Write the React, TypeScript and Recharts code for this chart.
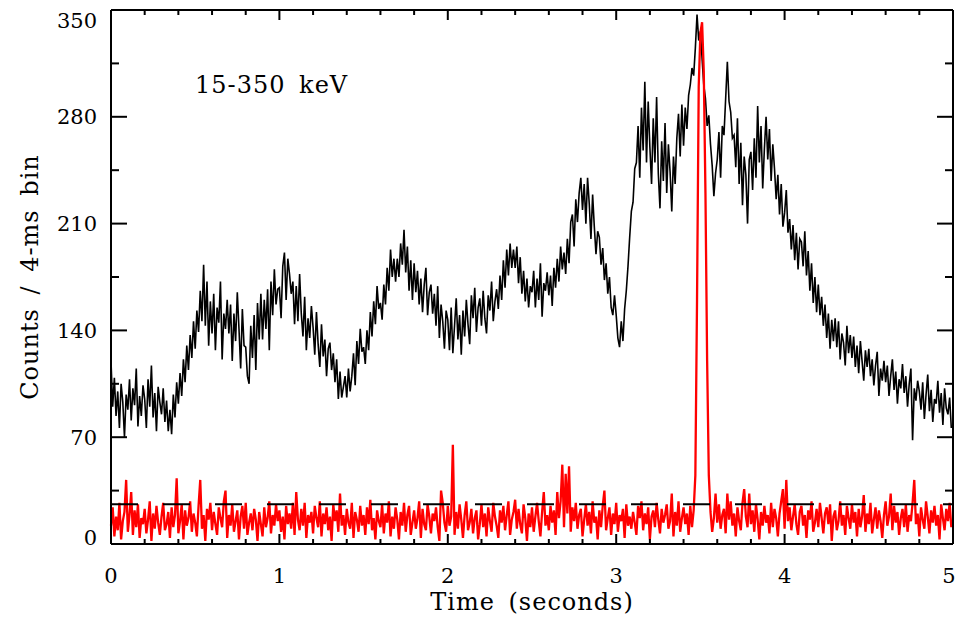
import { LineChart, Line, XAxis, YAxis, ReferenceLine } from 'recharts'

const binWidth = 0.01
const xTicks = [0, 0.2, 0.4, 0.6, 0.8, 1, 1.2, 1.4, 1.6, 1.8, 2, 2.2, 2.4, 2.6, 2.8, 3, 3.2, 3.4, 3.6, 3.8, 4, 4.2, 4.4, 4.6, 4.8, 5]
const xMajor = [0, 1, 2, 3, 4, 5]
const yTicks = [0, 35, 70, 105, 140, 175, 210, 245, 280, 315, 350]
const yMajor = [0, 70, 140, 210, 280, 350]
const backgroundLevel = 26

// 15-350 keV light curve, one value per 10 ms
const totalCounts = [
  120, 90, 109, 84, 100, 76, 105, 93, 70, 98,
  88, 108, 81, 102, 91, 115, 77, 97, 84, 104,
  95, 76, 108, 90, 117, 83, 99, 74, 103, 93,
  85, 102, 80, 94, 74, 88, 72, 98, 83, 106,
  92, 112, 97, 121, 106, 130, 114, 137, 122, 146,
  128, 153, 139, 166, 146, 183, 143, 172, 130, 159,
  138, 164, 127, 155, 145, 172, 121, 151, 141, 160,
  138, 157, 120, 151, 133, 165, 141, 115, 154, 130,
  129, 110, 105, 143, 122, 150, 114, 158, 134, 164,
  134, 160, 141, 167, 127, 172, 150, 180, 157, 167,
  168, 148, 182, 191, 160, 187, 177, 164, 172, 144,
  169, 146, 177, 151, 136, 162, 127, 148, 135, 156,
  142, 124, 152, 131, 116, 144, 123, 134, 110, 128,
  132, 114, 125, 106, 121, 95, 113, 96, 103, 110,
  96, 115, 100, 110, 125, 104, 133, 118, 141, 126,
  129, 118, 140, 127, 152, 136, 159, 144, 169, 154,
  158, 147, 170, 157, 181, 166, 193, 175, 187, 172,
  187, 175, 197, 183, 206, 178, 195, 166, 186, 160,
  184, 165, 179, 157, 174, 152, 170, 181, 150, 165,
  170, 151, 164, 143, 169, 135, 157, 146, 128, 153,
  147, 127, 155, 125, 143, 161, 134, 150, 124, 153,
  136, 160, 144, 131, 163, 148, 168, 139, 155, 161,
  143, 166, 148, 138, 163, 153, 172, 146, 159, 167,
  154, 176, 160, 186, 168, 193, 176, 197, 181, 193,
  181, 195, 171, 188, 164, 179, 159, 174, 155, 169,
  165, 179, 155, 174, 160, 184, 149, 171, 166, 178,
  163, 176, 156, 181, 168, 187, 172, 195, 180, 191,
  177, 200, 184, 211, 216, 195, 226, 211, 230, 240,
  219, 236, 210, 240, 223, 200, 229, 208, 190, 205,
  201, 183, 194, 173, 184, 164, 175, 155, 150, 163,
  150, 135, 129, 146, 133, 154, 166, 182, 201, 218,
  224, 246, 250, 274, 240, 286, 258, 303, 250, 290,
  260, 236, 279, 250, 293, 243, 220, 264, 238, 276,
  230, 262, 244, 218, 254, 236, 266, 282, 254, 288,
  261, 286, 272, 294, 301, 312, 307, 325, 347, 330,
  336, 318, 301, 292, 274, 281, 262, 248, 228, 243,
  252, 270, 240, 274, 268, 292, 316, 290, 283, 266,
  268, 247, 279, 236, 263, 222, 254, 242, 210, 252,
  257, 232, 266, 240, 287, 250, 274, 233, 259, 280,
  252, 272, 238, 262, 246, 226, 242, 216, 236, 208,
  217, 232, 204, 213, 193, 209, 186, 204, 180, 200,
  198, 182, 205, 176, 192, 166, 184, 158, 175, 152,
  170, 150, 162, 143, 157, 135, 151, 128, 147, 133,
  148, 129, 146, 121, 138, 132, 117, 143, 125, 137,
  122, 136, 116, 130, 112, 133, 120, 107, 127, 116,
  128, 110, 121, 104, 117, 126, 97, 115, 107, 120,
  106, 117, 97, 110, 121, 101, 113, 92, 108, 102,
  118, 99, 110, 90, 105, 115, 68, 102, 94, 107,
  100, 88, 106, 82, 98, 111, 87, 101, 80, 95,
  92, 107, 86, 99, 78, 102, 89, 85, 96, 76,
]

// short spike light curve (red), same bins
const spikeCounts = [
  12, 24, 5, 18, 9, 27, 3, 15, 21, 42,
  8, 19, 34, 6, 22, 11, 26, 4, 17, 13,
  23, 7, 16, 28, 2, 20, 10, 25, 14, 6,
  18, 27, 9, 13, 21, 4, 24, 11, 19, 43,
  7, 15, 26, 3, 22, 12, 17, 28, 8, 20,
  14, 5, 25, 42, 10, 19, 2, 23, 16, 27,
  9, 21, 13, 6, 24, 17, 11, 28, 35, 4,
  19, 12, 26, 8, 15, 22, 3, 18, 25, 10,
  27, 6, 14, 20, 9, 23, 16, 2, 21, 13,
  5, 24, 11, 17, 28, 7, 19, 12, 26, 15,
  22, 8, 18, 3, 25, 13, 20, 10, 27, 6,
  34, 16, 9, 23, 12, 27, 4, 19, 14, 21,
  7, 25, 17, 11, 28, 5, 20, 13, 24, 9,
  18, 2, 26, 15, 22, 8, 33, 12, 19, 6,
  23, 14, 10, 27, 4, 21, 16, 8, 25, 12,
  19, 6, 24, 13, 29, 9, 17, 3, 22, 15,
  11, 26, 7, 20, 14, 28, 5, 18, 10, 24,
  16, 3, 21, 12, 27, 8, 19, 25, 6, 14,
  22, 10, 17, 28, 4, 23, 13, 9, 26, 18,
  7, 20, 15, 24, 11, 2, 35, 27, 14, 8,
  25, 12, 18, 65, 6, 21, 10, 26, 16, 4,
  19, 28, 9, 14, 23, 7, 17, 22, 3, 13,
  26, 11, 20, 5, 24, 15, 8, 27, 18, 12,
  4, 22, 14, 25, 9, 19, 28, 6, 16, 21,
  29, 10, 23, 13, 7, 26, 17, 2, 20, 11,
  24, 8, 18, 27, 15, 5, 21, 34, 12, 19,
  9, 25, 14, 22, 6, 34, 17, 28, 52, 11,
  46, 20, 51, 8, 24, 15, 27, 10, 19, 23,
  5, 16, 26, 12, 21, 7, 28, 14, 18, 3,
  22, 11, 25, 35, 9, 17, 24, 6, 20, 13,
  27, 8, 19, 15, 23, 4, 26, 12, 18, 10,
  21, 14, 6, 25, 17, 28, 9, 20, 13, 24,
  3, 18, 22, 11, 27, 16, 7, 23, 14, 19,
  26, 10, 15, 33, 5, 21, 12, 28, 8, 17,
  24, 13, 20, 6, 25, 11, 22, 45, 160, 300,
  335, 342, 310, 230, 120, 45, 21, 8, 17, 33,
  14, 26, 10, 19, 23, 7, 33, 16, 28, 12,
  20, 5, 24, 15, 9, 27, 36, 18, 11, 33,
  13, 22, 8, 26, 16, 3, 21, 12, 25, 14,
  19, 7, 27, 11, 23, 17, 5, 20, 28, 36,
  10, 42, 15, 24, 9, 18, 26, 13, 6, 21,
  25, 12, 19, 4, 22, 16, 28, 8, 14, 23,
  11, 27, 17, 7, 20, 24, 13, 26, 2, 18,
  22, 9, 15, 28, 12, 19, 6, 25, 17, 10,
  26, 14, 21, 5, 23, 11, 18, 32, 8, 20,
  13, 27, 7, 16, 24, 10, 22, 15, 4, 19,
  28, 12, 18, 33, 9, 25, 14, 21, 6, 17,
  23, 11, 26, 8, 19, 15, 27, 42, 13, 20,
  5, 24, 16, 10, 28, 18, 7, 22, 14, 25,
  12, 19, 3, 26, 17, 9, 23, 15, 27, 11,
]

const data = totalCounts.map((v, i) => ({
  t: Math.round(i * binWidth * 100) / 100,
  total: v,
  spike: spikeCounts[i],
}))

const font = '"DejaVu Serif", serif'
const axisStyle = { stroke: '#000', strokeWidth: 2 }

function BottomTick(props: any) {
  const { x, y, payload } = props
  const major = xMajor.includes(payload.value)
  // last label is nudged so it stays on the page
  const shift = payload.value === 5 ? -4 : 0
  return (
    <g>
      <line x1={x} x2={x} y1={y} y2={y - (major ? 10 : 5)} stroke="#000" strokeWidth={2} />
      {major && (
        <text x={x + shift} y={y + 39} textAnchor="middle" fontFamily={font} fontSize={21} fill="#000">
          {payload.value}
        </text>
      )}
    </g>
  )
}

function TopTick(props: any) {
  const { x, y, payload } = props
  const major = xMajor.includes(payload.value)
  return <line x1={x} x2={x} y1={y} y2={y + (major ? 10 : 5)} stroke="#000" strokeWidth={2} />
}

function LeftTick(props: any) {
  const { x, y, payload } = props
  const major = yMajor.includes(payload.value)
  // the end labels sit inside the box
  const shift = payload.value === 350 ? 10 : payload.value === 0 ? -7 : 0
  return (
    <g>
      <line x1={x} x2={x + (major ? 16 : 8)} y1={y} y2={y} stroke="#000" strokeWidth={2} />
      {major && (
        <text x={x - 14} y={y + shift + 7.5} textAnchor="end" fontFamily={font} fontSize={21} fill="#000">
          {payload.value}
        </text>
      )}
    </g>
  )
}

function RightTick(props: any) {
  const { x, y, payload } = props
  const major = yMajor.includes(payload.value)
  return <line x1={x} x2={x - (major ? 16 : 8)} y1={y} y2={y} stroke="#000" strokeWidth={2} />
}

const titleStyle = { fontFamily: font, fontSize: 24, letterSpacing: 1, wordSpacing: 5 }

export default function App() {
  return (
    <div style={{ position: 'absolute', left: 0, top: 0, width: 958, height: 618, background: '#fff' }}>
      <LineChart width={958} height={618} data={data} margin={{ top: 9, right: 4, bottom: 73, left: 110 }}>
        <XAxis
          dataKey="t"
          type="number"
          domain={[0, 5]}
          ticks={xTicks}
          interval={0}
          height={1}
          tickSize={0}
          tickMargin={0}
          tickLine={false}
          tick={<BottomTick />}
          axisLine={axisStyle}
        />
        <XAxis
          xAxisId="top"
          orientation="top"
          dataKey="t"
          type="number"
          domain={[0, 5]}
          ticks={xTicks}
          interval={0}
          height={1}
          tickSize={0}
          tickMargin={0}
          tickLine={false}
          tick={<TopTick />}
          axisLine={axisStyle}
        />
        <YAxis
          type="number"
          domain={[0, 350]}
          ticks={yTicks}
          interval={0}
          width={1}
          tickSize={0}
          tickMargin={0}
          tickLine={false}
          tick={<LeftTick />}
          axisLine={axisStyle}
          allowDataOverflow
        />
        <YAxis
          yAxisId="right"
          orientation="right"
          type="number"
          domain={[0, 350]}
          ticks={yTicks}
          interval={0}
          width={1}
          tickSize={0}
          tickMargin={0}
          tickLine={false}
          tick={<RightTick />}
          axisLine={axisStyle}
          allowDataOverflow
        />
        <Line dataKey="total" type="linear" stroke="#000" strokeWidth={1.6} dot={false} isAnimationActive={false} />
        <Line dataKey="spike" type="linear" stroke="#ff0000" strokeWidth={2.3} dot={false} isAnimationActive={false} />
        <ReferenceLine y={backgroundLevel} stroke="#000" strokeWidth={2} strokeDasharray="27 25" />
      </LineChart>
      <svg width={958} height={618} style={{ position: 'absolute', left: 0, top: 0, pointerEvents: 'none' }}>
        <text x={195} y={93} fill="#000" {...titleStyle}>15-350 keV</text>
        <text x={532} y={610} textAnchor="middle" fill="#000" {...titleStyle}>Time (seconds)</text>
        <text x={38} y={277} textAnchor="middle" transform="rotate(-90 38 277)" fill="#000" {...titleStyle}>
          Counts / 4-ms bin
        </text>
      </svg>
    </div>
  )
}
